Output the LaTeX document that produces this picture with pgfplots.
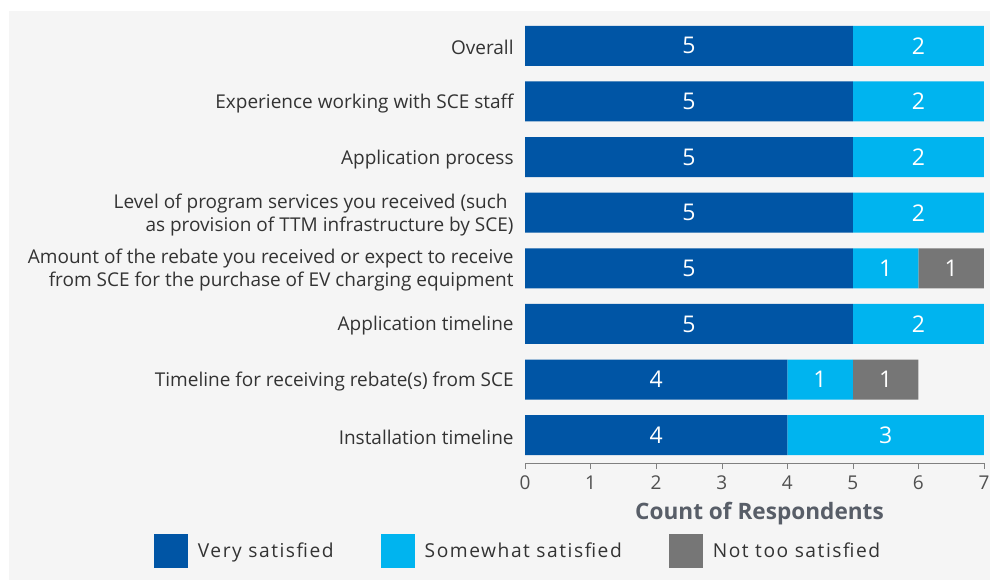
\documentclass[border=0pt]{standalone}
\usepackage{pgfplots}
\pgfplotsset{compat=1.18}
\usepackage{pgfplotstable}
\usepackage{fontspec}
\setmainfont{Open Sans}
\newfontfamily\legfont[LetterSpace=8]{Open Sans}
\definecolor{vsat}{HTML}{0055A5}
\definecolor{ssat}{HTML}{00B4EF}
\definecolor{nsat}{HTML}{767676}
\definecolor{panel}{HTML}{F5F5F5}
\definecolor{labtxt}{HTML}{333333}
\definecolor{ticktxt}{HTML}{505050}
\definecolor{ttl}{HTML}{585E68}

% y: 0 = bottom row (Installation timeline), 7 = top row (Overall)
\pgfplotstableread{
y very some not
0 4 3 0
1 4 1 1
2 5 2 0
3 5 1 1
4 5 2 0
5 5 2 0
6 5 2 0
7 5 2 0
}\resp

\pgfplotsset{
  legbox/.style={legend image code/.code={\fill[##1] (0pt,-8.5pt) rectangle (17pt,8.5pt);}},
  seglabel/.style={
    visualization depends on={\thisrow{#1} \as \segv},
    nodes near coords={\ifdim\segv pt>0pt \pgfmathprintnumber{\segv}\fi}},
}

\begin{document}
\begin{tikzpicture}
\fill[white] (0,0) rectangle (495pt,290pt);
\fill[panel] (4.5pt,0) rectangle (495pt,284.5pt);
\begin{axis}[
    at={(262.5pt,58.5pt)}, anchor=south west,
    xbar stacked,
    bar width=20pt,
    x=32.7857pt, y=27.8125pt,
    xmin=0, xmax=7, ymin=-0.5, ymax=7.5,
    axis x line*=bottom, axis y line*=left,
    y axis line style={draw=none},
    x axis line style={draw=gray, -},
    xtick={0,...,7},
    ytick={0,...,7},
    yticklabels={Installation timeline,
      Timeline for receiving rebate(s) from SCE,
      Application timeline,
      {Amount of the rebate you received or expect to receive\\from SCE for the purchase of EV charging equipment},
      {Level of program services you received (such\kern3pt\\as provision of TTM infrastructure by SCE)},
      Application process,
      Experience working with SCE staff,
      Overall},
    ytick style={draw=none},
    xtick style={draw=gray},
    tick align=outside,
    major tick length=3pt,
    yticklabel style={align=right, inner sep=0pt, xshift=-2.5pt, yshift=-1pt,
      font=\fontsize{9.5}{11.5}\selectfont, text=labtxt},
    xticklabel style={font=\fontsize{9.5}{11}\selectfont, text=ticktxt},
    /pgf/number format/assume math mode=true,
    xlabel={Count of Respondents},
    xlabel style={font=\bfseries\fontsize{11.3}{13}\selectfont, text=ttl, yshift=1pt, xshift=2.5pt},
    nodes near coords style={font=\fontsize{11.5}{13}\selectfont, text=white, anchor=center},
    legend style={at={(axis description cs:-0.0065,-0.1985)}, anchor=center,
      draw=none, fill=none, legend columns=3,
      font=\legfont\fontsize{9.6}{11}\selectfont, text=labtxt,
      nodes={inner xsep=5pt},
      /tikz/every even column/.append style={column sep=18.5pt}},
  ]
  \addplot[fill=vsat, draw=none, legbox, seglabel=very]
    table[x=very, y=y]{\resp};
  \addplot[fill=ssat, draw=none, legbox, seglabel=some]
    table[x=some, y=y]{\resp};
  \addplot[fill=nsat, draw=none, legbox, seglabel=not]
    table[x=not, y=y]{\resp};
  \legend{Very satisfied, Somewhat satisfied, Not too satisfied}
\end{axis}
\pgfresetboundingbox
\path (0,0) rectangle (495pt,290pt);
\end{tikzpicture}
\end{document}
